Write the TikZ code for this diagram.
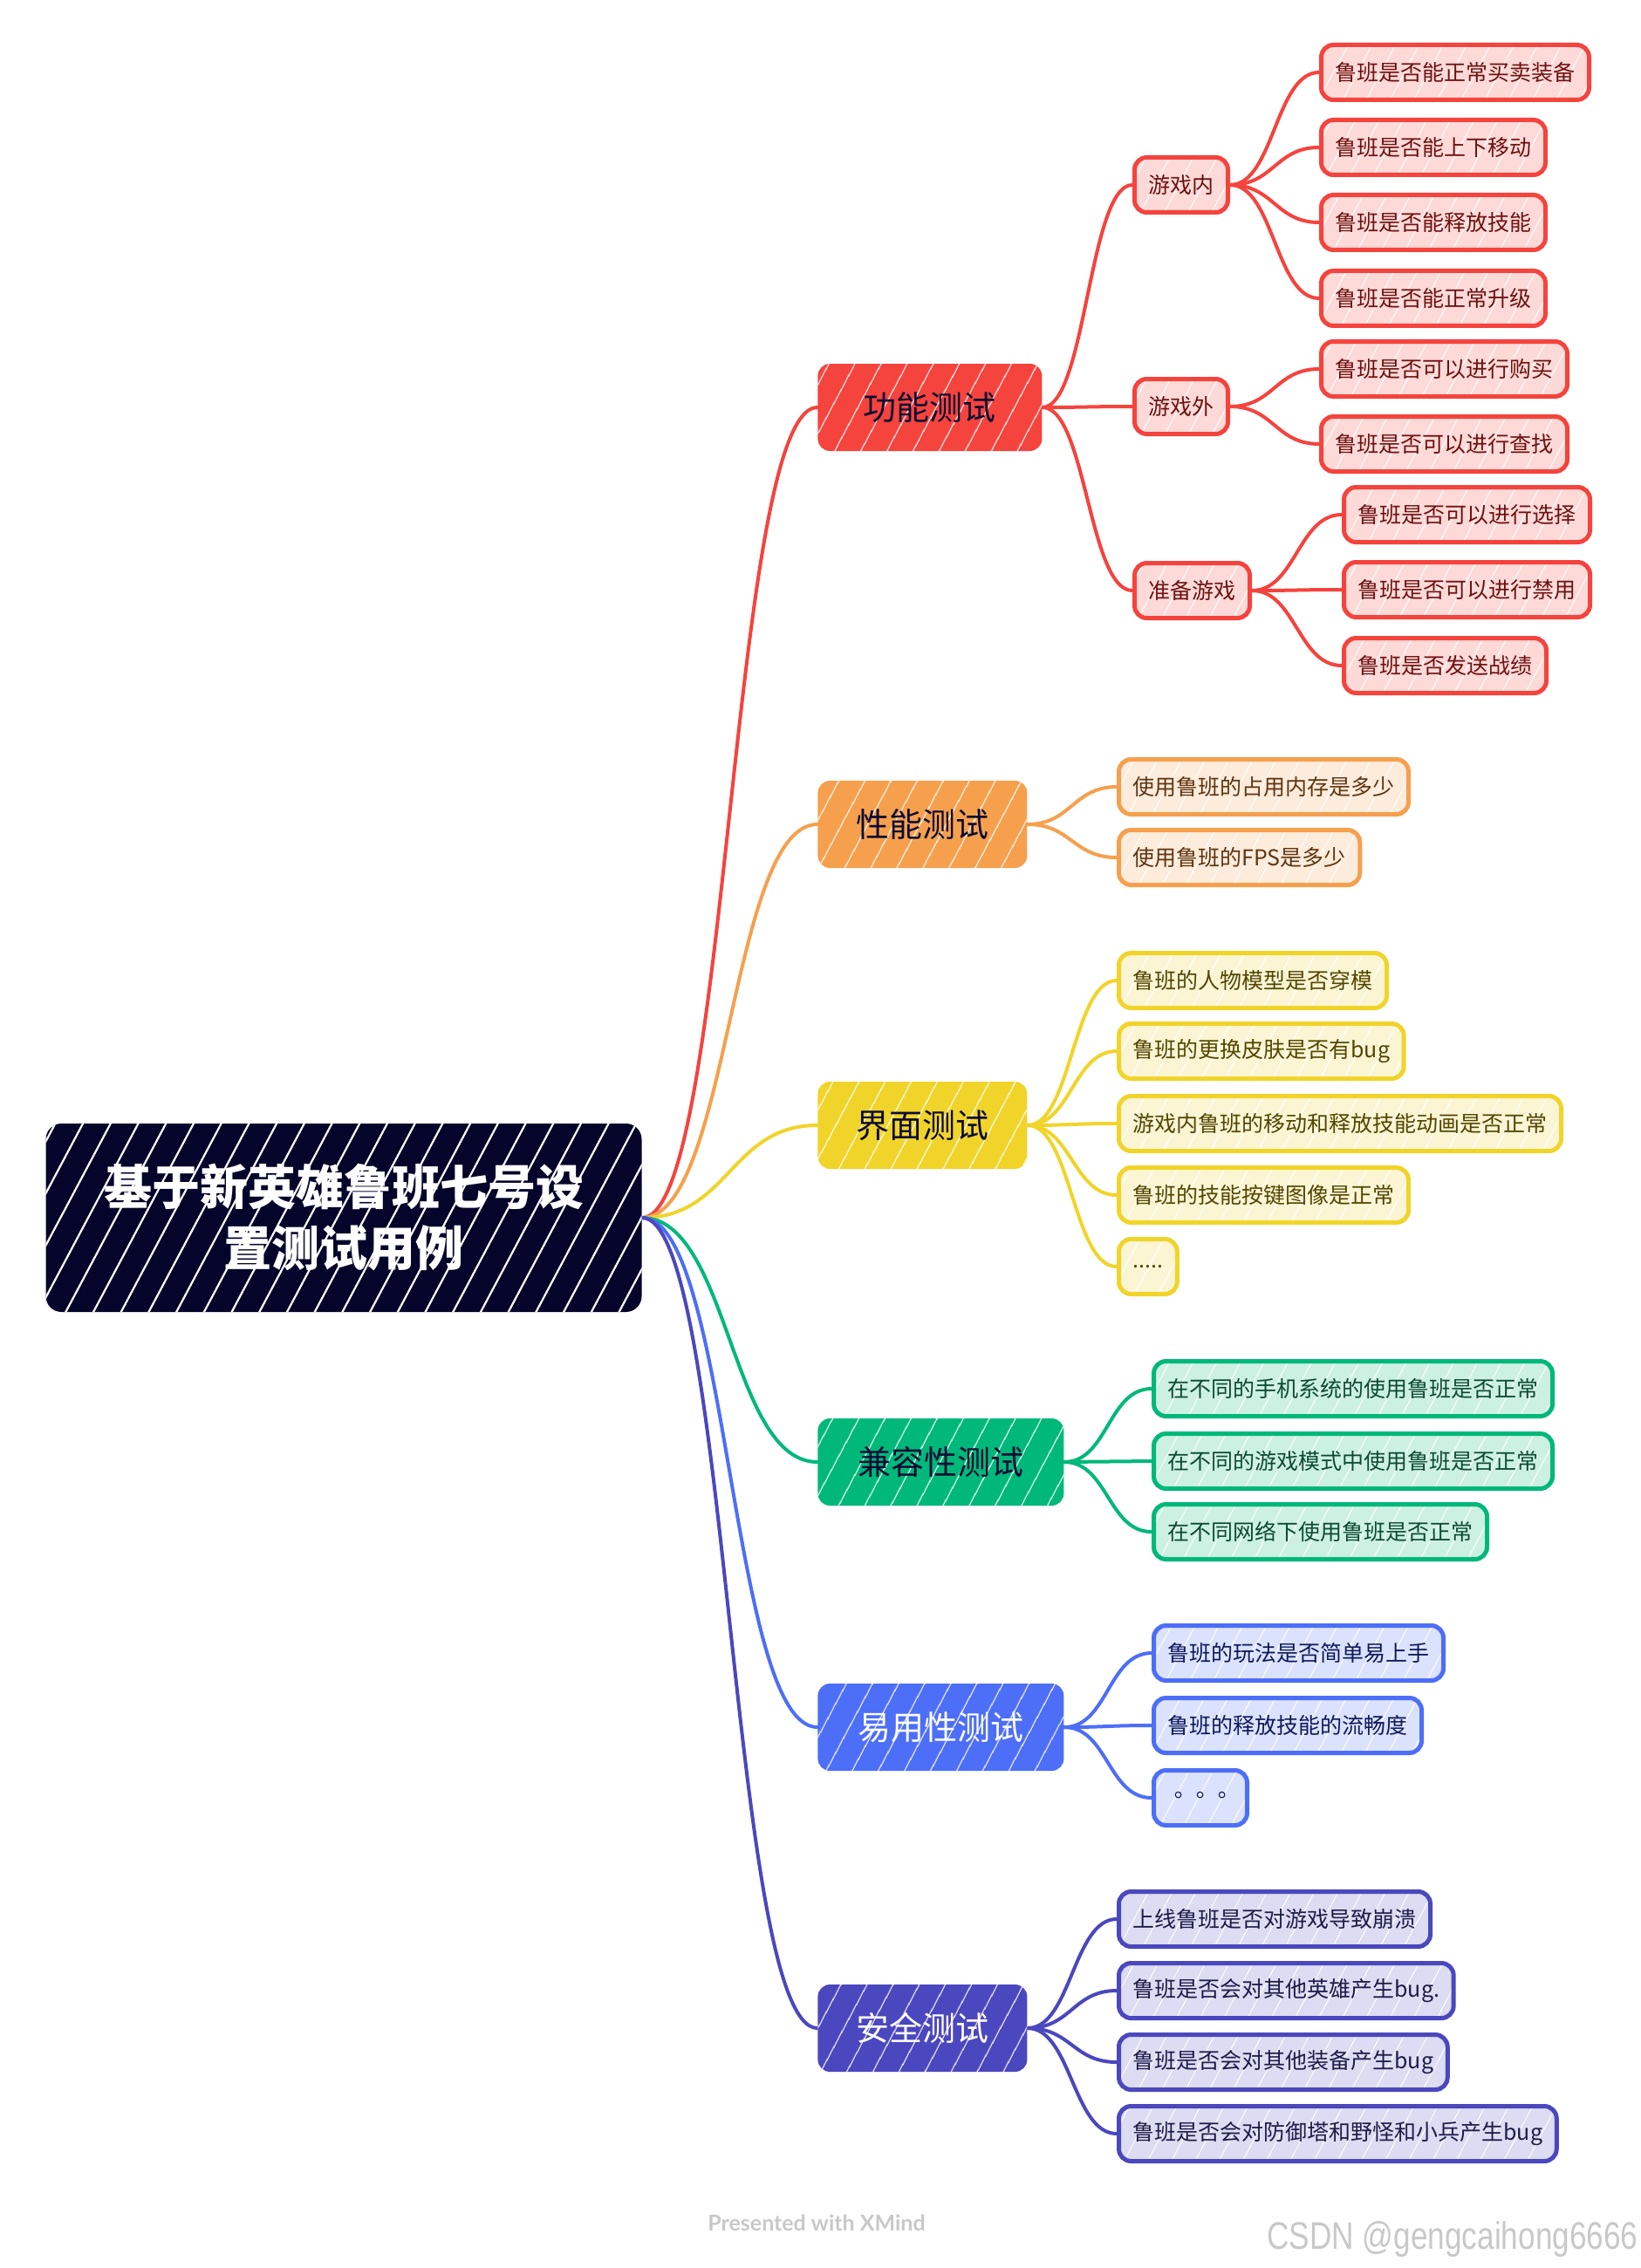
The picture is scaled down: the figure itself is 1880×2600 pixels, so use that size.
\documentclass[tikz,border=0pt]{standalone}
\usepackage{fontspec}
\setmainfont{Noto Sans CJK SC}
\newfontfamily\tcfont{Noto Sans CJK TC}
\newfontfamily\latofont{Lato}
\newfontfamily\narrowfont[FakeStretch=0.8]{Liberation Sans}
\usetikzlibrary{patterns.meta,backgrounds}
\definecolor{cRoot}{HTML}{05052B}
\definecolor{cNavy}{HTML}{0B0B33}
\definecolor{cRed}{HTML}{F5433D}
\definecolor{cRedL}{HTML}{FDDAD8}
\definecolor{cRedT}{HTML}{6E1111}
\definecolor{cOrange}{HTML}{F6A04D}
\definecolor{cOrangeL}{HTML}{FDEBDB}
\definecolor{cOrangeT}{HTML}{5E3510}
\definecolor{cYellow}{HTML}{F1D42A}
\definecolor{cYellowL}{HTML}{FCF5D4}
\definecolor{cYellowT}{HTML}{534600}
\definecolor{cGreen}{HTML}{00B87A}
\definecolor{cGreenL}{HTML}{CCF1E3}
\definecolor{cGreenT}{HTML}{0C4A33}
\definecolor{cBlue}{HTML}{4D6EF7}
\definecolor{cBlueL}{HTML}{DBE2FD}
\definecolor{cBlueT}{HTML}{0E1A5A}
\definecolor{cIndigo}{HTML}{4B47BE}
\definecolor{cIndigoL}{HTML}{DCDCF2}
\definecolor{cIndigoT}{HTML}{1C1C48}
\definecolor{cFoot}{HTML}{C8C8C8}
\begin{document}
\begin{tikzpicture}[x=0.5pt,y=-0.5pt,
  rootbox/.style={rounded corners=9pt, preaction={fill=cRoot},
    preaction={pattern={Lines[angle=62,distance=14pt,line width=1.1pt]}, pattern color=white},
    text=white, font=\fontsize{27.5}{35}\selectfont\bfseries, align=center,
    minimum width=341.5pt, minimum height=108pt, inner sep=0pt},
  mainbox/.style={rounded corners=7pt, minimum height=50pt, inner sep=0pt, anchor=west,
    font=\fontsize{19}{19}\selectfont},
  hatchmain/.style={preaction={pattern={Lines[angle=62,distance=13pt,line width=0.6pt]}, pattern color=white}},
  leafbox/.style={rounded corners=7pt, line width=2.5pt, minimum height=31.5pt, inner xsep=8pt,
    inner ysep=0pt, anchor=west, font=\fontsize{12.5}{12.5}\selectfont},
  hatchleaf/.style={preaction={pattern={Lines[angle=62,distance=12pt,line width=0.5pt]}, pattern color=white}},
  redmain/.style={mainbox, preaction={fill=cRed}, hatchmain, text=cNavy},
  orangemain/.style={mainbox, preaction={fill=cOrange}, hatchmain, text=cNavy},
  yellowmain/.style={mainbox, preaction={fill=cYellow}, hatchmain, text=cNavy},
  greenmain/.style={mainbox, preaction={fill=cGreen}, hatchmain, text=cNavy},
  bluemain/.style={mainbox, preaction={fill=cBlue}, hatchmain, text=white},
  indigomain/.style={mainbox, preaction={fill=cIndigo}, hatchmain, text=white},
  redleaf/.style={leafbox, preaction={fill=cRedL}, hatchleaf, draw=cRed, text=cRedT},
  orangeleaf/.style={leafbox, preaction={fill=cOrangeL}, hatchleaf, draw=cOrange, text=cOrangeT},
  yellowleaf/.style={leafbox, preaction={fill=cYellowL}, hatchleaf, draw=cYellow, text=cYellowT},
  greenleaf/.style={leafbox, preaction={fill=cGreenL}, hatchleaf, draw=cGreen, text=cGreenT},
  blueleaf/.style={leafbox, preaction={fill=cBlueL}, hatchleaf, draw=cBlue, text=cBlueT},
  indigoleaf/.style={leafbox, preaction={fill=cIndigoL}, hatchleaf, draw=cIndigo, text=cIndigoT},
  link/.style={line width=2pt, line cap=round},
  footer/.style={text=cFoot, font=\latofont\bfseries\fontsize{12.5}{12.5}\selectfont},
  csdn/.style={text=cFoot, font=\narrowfont\fontsize{22}{22}\selectfont}
]
\useasboundingbox (0,0) rectangle (1880,2600);

% root
\node[rootbox] (root) at (394,1396) {基于新英雄鲁班七号设\\置测试用例};

% main branches
\node[redmain, minimum width=128.5pt] (f1) at (937,467) {功能测试};
\node[orangemain, minimum width=120pt] (f2) at (937,945) {性能测试};
\node[yellowmain, minimum width=120pt] (f3) at (937,1290) {界面测试};
\node[greenmain, minimum width=141pt] (f4) at (937,1676) {兼容性测试};
\node[bluemain, minimum width=141pt] (f5) at (937,1980) {易用性测试};
\node[indigomain, minimum width=120pt] (f6) at (937,2325) {安全测试};

% red subtopics
\node[redleaf] (s1) at (1298,212) {游戏内};
\node[redleaf] (s2) at (1298,466) {游戏外};
\node[redleaf] (s3) at (1298,677) {准备游戏};

\node[redleaf] (l11) at (1512,83) {鲁班是否能正常买卖装备};
\node[redleaf] (l12) at (1512,169) {鲁班是否能上下移动};
\node[redleaf] (l13) at (1512,255) {鲁班是否能释放技能};
\node[redleaf] (l14) at (1512,342) {鲁班是否能正常升级};
\node[redleaf] (l21) at (1512,423) {鲁班是否可以进行购买};
\node[redleaf] (l22) at (1512,509) {鲁班是否可以进行查找};
\node[redleaf] (l31) at (1538,590) {鲁班是否可以进行选择};
\node[redleaf] (l32) at (1538,676) {鲁班是否可以进行禁用};
\node[redleaf] (l33) at (1538,763) {鲁班是否发送战绩};

% orange
\node[orangeleaf] (o1) at (1280,902) {使用鲁班的占用内存是多少};
\node[orangeleaf] (o2) at (1280,983) {使用鲁班的FPS是多少};

% yellow
\node[yellowleaf] (y1) at (1280,1124) {鲁班的人物模型是否穿模};
\node[yellowleaf] (y2) at (1280,1205) {鲁班的更换皮肤是否有bug};
\node[yellowleaf] (y3) at (1280,1288) {游戏内鲁班的移动和释放技能动画是否正常};
\node[yellowleaf] (y4) at (1280,1370) {鲁班的技能按键图像是正常};
\node[yellowleaf] (y5) at (1280,1452) {.....};

% green
\node[greenleaf] (g1) at (1320,1592) {在不同的手机系统的使用鲁班是否正常};
\node[greenleaf] (g2) at (1320,1675) {在不同的游戏模式中使用鲁班是否正常};
\node[greenleaf] (g3) at (1320,1756) {在不同网络下使用鲁班是否正常};

% blue
\node[blueleaf] (b1) at (1320,1895) {鲁班的玩法是否简单易上手};
\node[blueleaf] (b2) at (1320,1978) {鲁班的释放技能的流畅度};
\node[blueleaf, font=\tcfont\fontsize{12.5}{12.5}\selectfont] (b3) at (1320,2061) {。。。};

% indigo
\node[indigoleaf] (i1) at (1280,2200) {上线鲁班是否对游戏导致崩溃};
\node[indigoleaf] (i2) at (1280,2282) {鲁班是否会对其他英雄产生bug.};
\node[indigoleaf] (i3) at (1280,2364) {鲁班是否会对其他装备产生bug};
\node[indigoleaf] (i4) at (1280,2446) {鲁班是否会对防御塔和野怪和小兵产生bug};

% footer
\node[footer] (pw) at (936,2548) {Presented with XMind};
\node[csdn] (cs) at (1665,2567) {CSDN @gengcaihong6666};

\begin{scope}[on background layer]
  \draw[link, draw=cRed] (root.east) .. controls +(100,0) and +(-100,0) .. (f1.west);
  \draw[link, draw=cOrange] (root.east) .. controls +(100,0) and +(-100,0) .. (f2.west);
  \draw[link, draw=cYellow] (root.east) .. controls +(100,0) and +(-100,0) .. (f3.west);
  \draw[link, draw=cGreen] (root.east) .. controls +(100,0) and +(-100,0) .. (f4.west);
  \draw[link, draw=cBlue] (root.east) .. controls +(100,0) and +(-100,0) .. (f5.west);
  \draw[link, draw=cIndigo] (root.east) .. controls +(100,0) and +(-100,0) .. (f6.west);

  \foreach \s in {s1,s2,s3}
    \draw[link, draw=cRed] (f1.east) .. controls +(50,0) and +(-50,0) .. (\s.west);
  \foreach \l in {l11,l12,l13,l14}
    \draw[link, draw=cRed] (s1.east) .. controls +(50,0) and +(-50,0) .. (\l.west);
  \foreach \l in {l21,l22}
    \draw[link, draw=cRed] (s2.east) .. controls +(50,0) and +(-50,0) .. (\l.west);
  \foreach \l in {l31,l32,l33}
    \draw[link, draw=cRed] (s3.east) .. controls +(50,0) and +(-50,0) .. (\l.west);
  \foreach \l in {o1,o2}
    \draw[link, draw=cOrange] (f2.east) .. controls +(50,0) and +(-50,0) .. (\l.west);
  \foreach \l in {y1,y2,y3,y4,y5}
    \draw[link, draw=cYellow] (f3.east) .. controls +(50,0) and +(-50,0) .. (\l.west);
  \foreach \l in {g1,g2,g3}
    \draw[link, draw=cGreen] (f4.east) .. controls +(50,0) and +(-50,0) .. (\l.west);
  \foreach \l in {b1,b2,b3}
    \draw[link, draw=cBlue] (f5.east) .. controls +(50,0) and +(-50,0) .. (\l.west);
  \foreach \l in {i1,i2,i3,i4}
    \draw[link, draw=cIndigo] (f6.east) .. controls +(50,0) and +(-50,0) .. (\l.west);
\end{scope}
\end{tikzpicture}
\end{document}
